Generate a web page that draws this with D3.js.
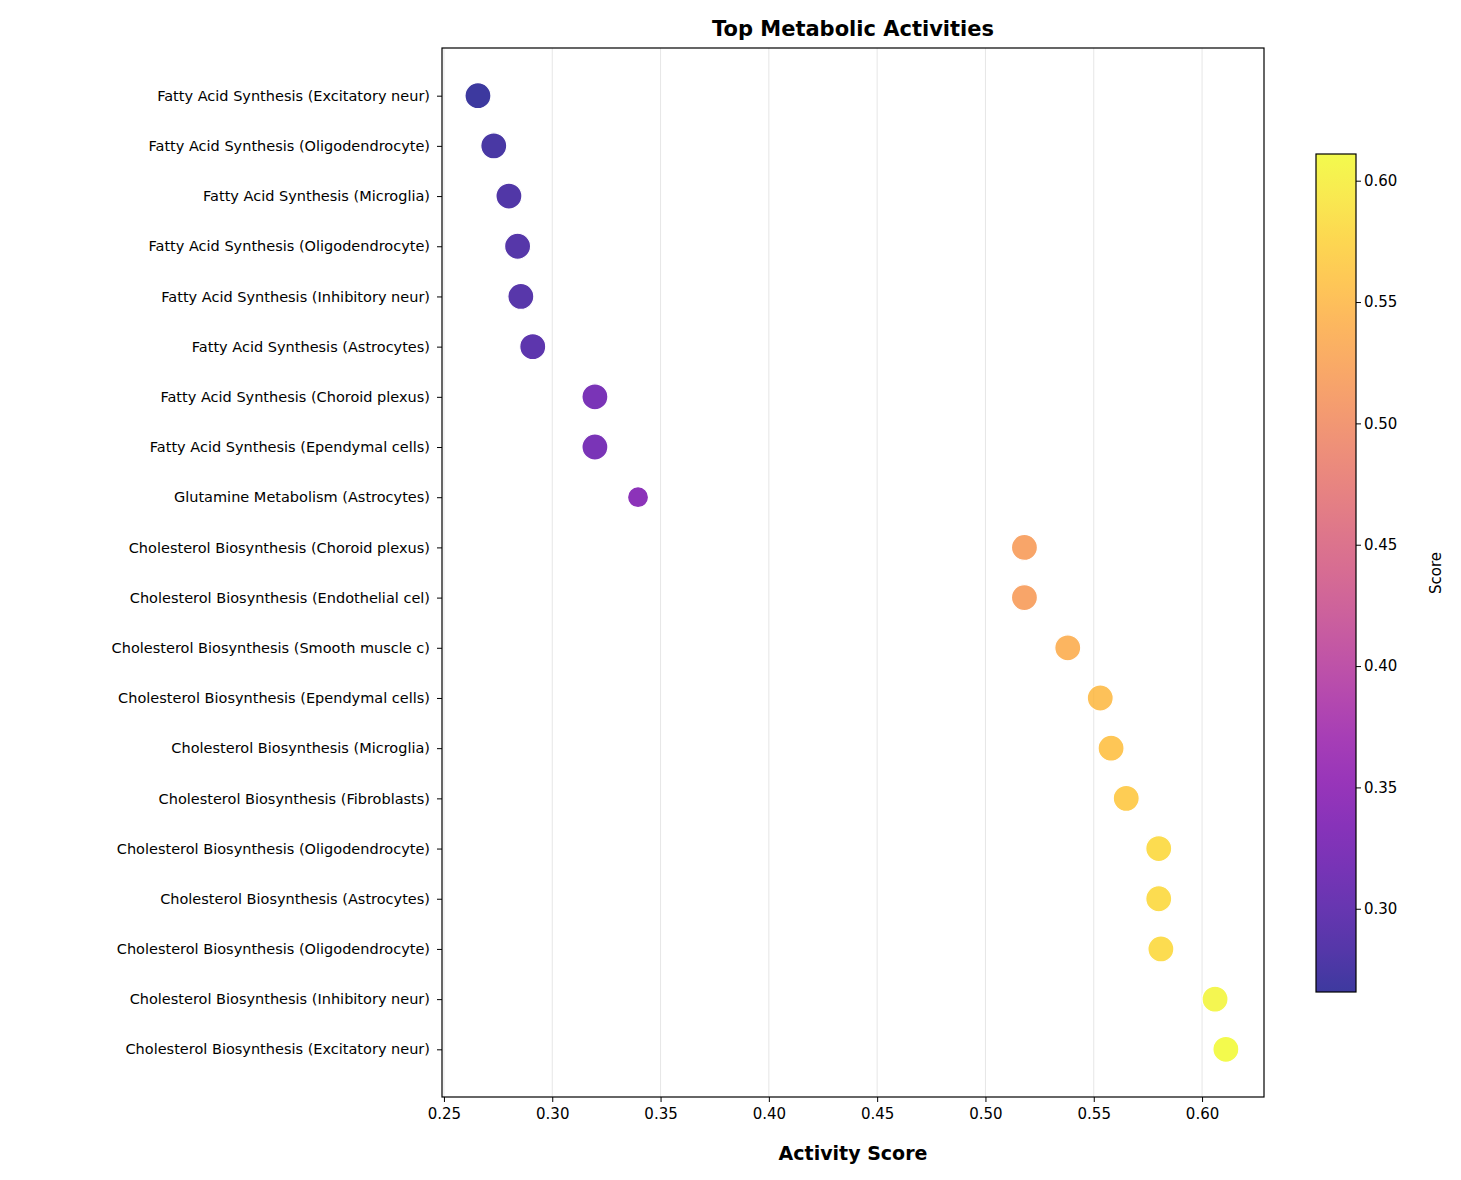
<!DOCTYPE html>
<html>
<head>
<meta charset="utf-8">
<script src="https://cdn.jsdelivr.net/npm/d3@7"></script>
<style>
body { margin: 0; background: #fff; }
text { font-family: "DejaVu Sans", sans-serif; }
</style>
</head>
<body>
<div class="visContainer"></div>
<script>
const categories = [
    'Fatty Acid Synthesis (Excitatory neur)',
    'Fatty Acid Synthesis (Oligodendrocyte)',
    'Fatty Acid Synthesis (Microglia)',
    'Fatty Acid Synthesis (Oligodendrocyte)',
    'Fatty Acid Synthesis (Inhibitory neur)',
    'Fatty Acid Synthesis (Astrocytes)',
    'Fatty Acid Synthesis (Choroid plexus)',
    'Fatty Acid Synthesis (Ependymal cells)',
    'Glutamine Metabolism (Astrocytes)',
    'Cholesterol Biosynthesis (Choroid plexus)',
    'Cholesterol Biosynthesis (Endothelial cel)',
    'Cholesterol Biosynthesis (Smooth muscle c)',
    'Cholesterol Biosynthesis (Ependymal cells)',
    'Cholesterol Biosynthesis (Microglia)',
    'Cholesterol Biosynthesis (Fibroblasts)',
    'Cholesterol Biosynthesis (Oligodendrocyte)',
    'Cholesterol Biosynthesis (Astrocytes)',
    'Cholesterol Biosynthesis (Oligodendrocyte)',
    'Cholesterol Biosynthesis (Inhibitory neur)',
    'Cholesterol Biosynthesis (Excitatory neur)'
];
const scores = [0.2657, 0.273, 0.280, 0.284, 0.2855, 0.291, 0.3197, 0.3197, 0.3396,
    0.518, 0.518, 0.538, 0.553, 0.558, 0.565, 0.580, 0.580, 0.581, 0.606, 0.611];
const radii = [13, 13, 13, 13, 13, 13, 13, 13, 10.5, 13, 13, 13, 13, 13, 13, 13, 13, 13, 13, 13];
const xTicks = [0.25, 0.30, 0.35, 0.40, 0.45, 0.50, 0.55, 0.60];
const cbTicks = [0.30, 0.35, 0.40, 0.45, 0.50, 0.55, 0.60];

const width = 1461, height = 1180;
const plotLeft = 442, plotRight = 1264, plotTop = 48, plotBottom = 1097;

const svg = d3.select('.visContainer').append('svg')
    .attr('width', width).attr('height', height);

const xScale = d3.scaleLinear().domain([0.2491, 0.6286]).range([plotLeft, plotRight]);
const yScale = d3.scalePoint().domain(d3.range(categories.length)).range([plotTop, plotBottom]).padding(0.95);
const color = d3.scaleSequential(d3.interpolatePlasma).domain([d3.min(scores), d3.max(scores)]);

// grid
svg.selectAll('.grid').data(xTicks).enter().append('line')
    .attr('x1', d => xScale(d)).attr('x2', d => xScale(d))
    .attr('y1', plotTop).attr('y2', plotBottom)
    .attr('stroke', '#e6e6e6').attr('stroke-width', 1);

svg.selectAll('circle.dot').data(scores).enter().append('circle')
    .attr('class', 'dot')
    .attr('cx', d => xScale(d))
    .attr('cy', (d, i) => yScale(i))
    .attr('r', (d, i) => radii[i])
    .attr('fill', d => color(d))
    .attr('fill-opacity', 0.8)
    .attr('stroke', '#ffffff').attr('stroke-width', 1.2);

const xAxis = d3.axisBottom(xScale).tickValues(xTicks).tickFormat(d3.format('.2f')).tickSizeOuter(0).tickSize(5);
const gx = svg.append('g').attr('transform', 'translate(0,' + plotBottom + ')').call(xAxis);
gx.selectAll('text').attr('font-size', 15).attr('fill', '#000').attr('dy', '0.9em');

const yAxis = d3.axisLeft(yScale).tickFormat(i => categories[i]).tickSizeOuter(0).tickSize(5);
const gy = svg.append('g').attr('transform', 'translate(' + plotLeft + ',0)').call(yAxis);
gy.selectAll('text').attr('font-size', 14.5).attr('fill', '#000').attr('x', -12);
svg.selectAll('.domain').remove();

svg.append('rect').attr('x', plotLeft).attr('y', plotTop).attr('width', plotRight - plotLeft).attr('height', plotBottom - plotTop)
    .attr('fill', 'none').attr('stroke', '#000').attr('stroke-width', 1.2);

svg.append('text').attr('x', (plotLeft + plotRight) / 2).attr('y', 36).attr('text-anchor', 'middle')
    .attr('font-size', 21).attr('font-weight', 'bold').text('Top Metabolic Activities');
svg.append('text').attr('x', (plotLeft + plotRight) / 2).attr('y', 1160).attr('text-anchor', 'middle')
    .attr('font-size', 19).attr('font-weight', 'bold').text('Activity Score');

// colorbar
const cbX = 1316, cbW = 40, cbTop = 154, cbBot = 992;
const cbScale = d3.scaleLinear().domain(color.domain()).range([cbBot, cbTop]);
const defs = svg.append('defs');
const grad = defs.append('linearGradient').attr('id', 'cbgrad')
    .attr('x1', 0).attr('y1', 1).attr('x2', 0).attr('y2', 0);
d3.range(0, 1.001, 0.05).forEach(t => {
    grad.append('stop').attr('offset', t).attr('stop-color', d3.interpolatePlasma(t)).attr('stop-opacity', 0.8);
});
svg.append('rect').attr('x', cbX).attr('y', cbTop).attr('width', cbW).attr('height', cbBot - cbTop)
    .attr('fill', 'url(#cbgrad)').attr('stroke', '#000').attr('stroke-width', 1.2);
const cbAxis = d3.axisRight(cbScale).tickValues(cbTicks).tickFormat(d3.format('.2f')).tickSize(5);
const gc = svg.append('g').attr('transform', 'translate(' + (cbX + cbW) + ',0)').call(cbAxis);
gc.selectAll('text').attr('font-size', 15).attr('fill', '#000');
gc.select('.domain').remove();
svg.append('text').attr('transform', 'translate(1441,' + ((cbTop + cbBot) / 2) + ') rotate(-90)')
    .attr('text-anchor', 'middle').attr('font-size', 15).text('Score');
</script>
</body>
</html>
